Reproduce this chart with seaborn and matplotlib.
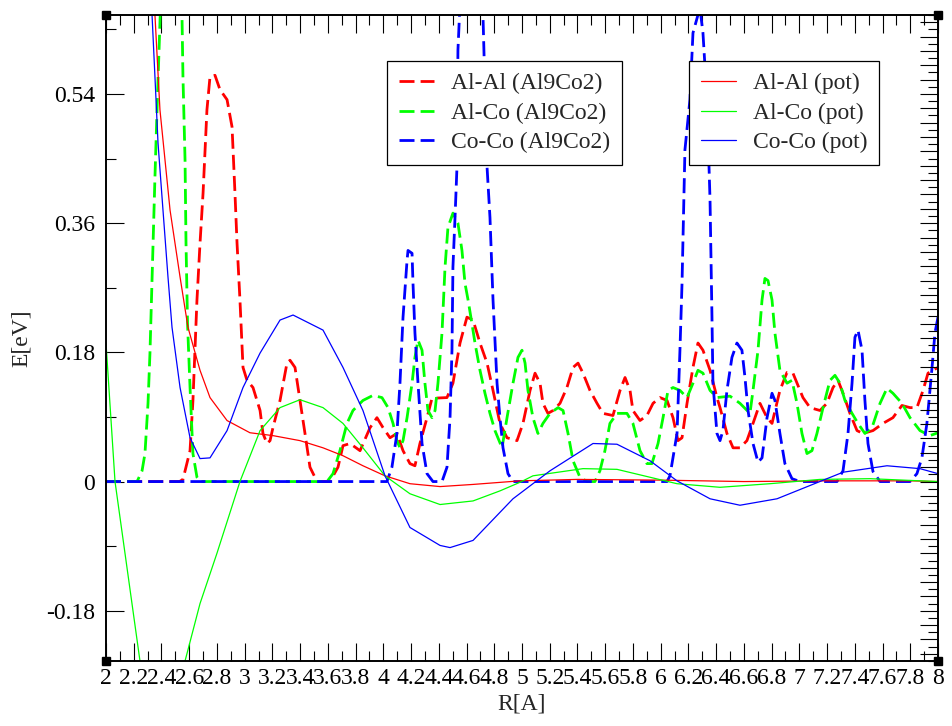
import matplotlib
matplotlib.use("Agg")
import matplotlib.pyplot as plt
import seaborn as sns
from matplotlib.ticker import MultipleLocator

# Al-Al (Al9Co2), dashed red
alal_ref_x = [2.0, 2.53, 2.555, 2.606, 2.627, 2.656, 2.678, 2.700, 2.728, 2.750, 2.786, 2.822, 2.873,
              2.909, 2.930, 2.945, 2.966, 2.988, 3.017, 3.060, 3.111, 3.132, 3.161, 3.183, 3.204,
              3.255, 3.305, 3.327, 3.363, 3.399, 3.435, 3.471, 3.522, 3.615, 3.673, 3.709, 3.760,
              3.832, 3.904, 3.954, 3.998, 4.048, 4.098, 4.142, 4.192, 4.228, 4.264, 4.315, 4.351,
              4.459, 4.502, 4.553, 4.603, 4.647, 4.697, 4.748, 4.791, 4.841, 4.892, 4.964, 5.007,
              5.058, 5.094, 5.130, 5.151, 5.187, 5.224, 5.274, 5.324, 5.368, 5.404, 5.440, 5.490,
              5.541, 5.584, 5.656, 5.707, 5.743, 5.779, 5.800, 5.851, 5.901, 5.945, 5.995, 6.046,
              6.089, 6.125, 6.154, 6.190, 6.233, 6.269, 6.305, 6.356, 6.406, 6.428, 6.478, 6.522,
              6.572, 6.622, 6.666, 6.716, 6.767, 6.803, 6.860, 6.911, 6.954, 7.026, 7.077, 7.149,
              7.199, 7.243, 7.279, 7.315, 7.365, 7.416, 7.459, 7.531, 7.603, 7.675, 7.740, 7.798,
              7.848, 7.892, 7.928, 7.964, 8.0]
alal_ref_y = [0.0, 0.0, 0.003, 0.043, 0.113, 0.253, 0.332, 0.402, 0.518, 0.564, 0.566, 0.546, 0.532,
              0.494, 0.402, 0.332, 0.253, 0.159, 0.141, 0.131, 0.099, 0.067, 0.053, 0.057, 0.075,
              0.113, 0.165, 0.169, 0.159, 0.113, 0.067, 0.020, 0.0, 0.0, 0.020, 0.050, 0.053,
              0.043, 0.075, 0.089, 0.075, 0.061, 0.067, 0.043, 0.025, 0.022, 0.053, 0.089, 0.116,
              0.117, 0.137, 0.193, 0.229, 0.225, 0.193, 0.165, 0.127, 0.081, 0.061, 0.057, 0.081,
              0.127, 0.151, 0.137, 0.109, 0.095, 0.099, 0.109, 0.131, 0.159, 0.165, 0.151, 0.127,
              0.109, 0.095, 0.092, 0.127, 0.145, 0.127, 0.099, 0.085, 0.092, 0.109, 0.117, 0.113,
              0.089, 0.057, 0.061, 0.109, 0.159, 0.193, 0.183, 0.155, 0.117, 0.103, 0.067, 0.047,
              0.047, 0.057, 0.081, 0.109, 0.089, 0.081, 0.127, 0.152, 0.151, 0.117, 0.103, 0.099,
              0.109, 0.131, 0.141, 0.123, 0.095, 0.071, 0.067, 0.071, 0.081, 0.089, 0.106, 0.103,
              0.103, 0.127, 0.151, 0.155, 0.159]

# Al-Co (Al9Co2), dashed green
alco_ref_x = [2.0, 2.224, 2.260, 2.281, 2.303, 2.317, 2.339, 2.353, 2.368, 2.389, 2.47, 2.548, 2.555,
              2.570, 2.577, 2.588, 2.606, 2.627, 2.656, 2.678, 3.594, 3.637, 3.687, 3.738, 3.781,
              3.853, 3.925, 3.990, 4.034, 4.070, 4.098, 4.120, 4.142, 4.171, 4.207, 4.228, 4.250,
              4.279, 4.300, 4.322, 4.351, 4.373, 4.394, 4.423, 4.445, 4.466, 4.502, 4.538, 4.567,
              4.589, 4.611, 4.639, 4.661, 4.697, 4.733, 4.769, 4.805, 4.856, 4.892, 4.935, 4.971,
              5.000, 5.022, 5.043, 5.079, 5.115, 5.151, 5.202, 5.260, 5.296, 5.332, 5.368, 5.418,
              5.469, 5.526, 5.562, 5.598, 5.634, 5.685, 5.757, 5.800, 5.851, 5.901, 5.937, 5.981,
              6.017, 6.053, 6.089, 6.139, 6.190, 6.233, 6.269, 6.305, 6.356, 6.406, 6.500, 6.572,
              6.644, 6.666, 6.702, 6.731, 6.752, 6.774, 6.803, 6.824, 6.860, 6.911, 6.947, 6.983,
              7.019, 7.055, 7.091, 7.127, 7.171, 7.221, 7.257, 7.293, 7.329, 7.380, 7.423, 7.473,
              7.524, 7.582, 7.632, 7.675, 7.740, 7.798, 7.870, 7.942, 8.0]
alco_ref_y = [0.0, 0.0, 0.015, 0.039, 0.109, 0.179, 0.332, 0.424, 0.518, 0.639, 1.1, 0.650, 0.564,
              0.448, 0.332, 0.220, 0.131, 0.039, 0.006, 0.0, 0.0, 0.011, 0.043, 0.081, 0.099,
              0.113, 0.120, 0.117, 0.103, 0.081, 0.057, 0.047, 0.057, 0.089, 0.137, 0.173, 0.197,
              0.183, 0.137, 0.099, 0.089, 0.099, 0.137, 0.207, 0.299, 0.354, 0.374, 0.360, 0.322,
              0.276, 0.253, 0.220, 0.193, 0.155, 0.123, 0.095, 0.071, 0.047, 0.089, 0.137, 0.173,
              0.183, 0.165, 0.127, 0.089, 0.067, 0.081, 0.095, 0.103, 0.099, 0.067, 0.029, 0.006,
              0.0, 0.0, 0.015, 0.043, 0.081, 0.095, 0.095, 0.081, 0.043, 0.025, 0.025, 0.053,
              0.089, 0.127, 0.131, 0.127, 0.117, 0.137, 0.155, 0.151, 0.127, 0.117, 0.119, 0.109,
              0.095, 0.127, 0.183, 0.253, 0.283, 0.280, 0.253, 0.207, 0.155, 0.137, 0.141, 0.109,
              0.067, 0.039, 0.043, 0.067, 0.103, 0.141, 0.148, 0.137, 0.113, 0.095, 0.081, 0.067,
              0.075, 0.109, 0.130, 0.123, 0.109, 0.089, 0.071, 0.064, 0.068]

# Co-Co (Al9Co2), dashed blue
coco_ref_x = [2.0, 4.026, 4.062, 4.098, 4.120, 4.142, 4.171, 4.178, 4.207, 4.214, 4.228, 4.250, 4.279,
              4.315, 4.358, 4.423, 4.459, 4.481, 4.495, 4.502, 4.517, 4.531, 4.538, 4.63, 4.719,
              4.748, 4.769, 4.791, 4.820, 4.841, 4.863, 4.899, 4.935, 6.046, 6.067, 6.118, 6.139,
              6.154, 6.175, 6.211, 6.233, 6.283, 6.305, 6.334, 6.356, 6.370, 6.377, 6.406, 6.428,
              6.449, 6.478, 6.514, 6.550, 6.586, 6.608, 6.630, 6.666, 6.702, 6.731, 6.767, 6.803,
              6.824, 6.860, 6.896, 6.947, 7.005, 7.272, 7.315, 7.351, 7.380, 7.401, 7.423, 7.452,
              7.473, 7.495, 7.531, 7.582, 7.798, 7.848, 7.884, 7.920, 7.957, 7.978, 8.0]
coco_ref_y = [0.0, 0.0, 0.020, 0.067, 0.137, 0.229, 0.308, 0.322, 0.318, 0.276, 0.207, 0.137, 0.053,
              0.011, 0.0, 0.0, 0.020, 0.089, 0.183, 0.299, 0.368, 0.438, 0.601, 1.0, 0.647,
              0.438, 0.368, 0.253, 0.137, 0.089, 0.047, 0.011, 0.0, 0.0, 0.008, 0.067, 0.183,
              0.276, 0.462, 0.532, 0.625, 0.660, 0.625, 0.532, 0.392, 0.229, 0.137, 0.067, 0.057,
              0.071, 0.127, 0.173, 0.193, 0.183, 0.145, 0.099, 0.053, 0.027, 0.033, 0.089, 0.123,
              0.113, 0.067, 0.025, 0.004, 0.0, 0.0, 0.015, 0.067, 0.137, 0.201, 0.211, 0.183,
              0.113, 0.053, 0.014, 0.0, 0.0, 0.011, 0.033, 0.081, 0.159, 0.207, 0.229]

# Al-Al (pot), thin red
alal_pot_x = [2.30, 2.353, 2.389, 2.462, 2.534, 2.591, 2.678, 2.750, 2.873, 3.038, 3.204, 3.399, 3.565,
              3.709, 3.853, 4.012, 4.192, 4.409, 4.647, 4.986, 5.4, 6.0, 6.6, 7.2, 7.8, 8.0]
alal_pot_y = [0.85, 0.650, 0.518, 0.378, 0.285, 0.215, 0.155, 0.117, 0.085, 0.068, 0.064, 0.057, 0.047,
              0.036, 0.022, 0.008, -0.003, -0.007, -0.004, 0.001, 0.003, 0.002, 0.0, 0.001, 0.001, 0.0]

# Al-Co (pot), thin green
alco_pot_x = [2.0, 2.065, 2.245, 2.30, 2.38, 2.46, 2.570, 2.678, 2.800, 2.966, 3.111, 3.255, 3.399,
              3.565, 3.709, 3.853, 4.012, 4.192, 4.409, 4.647, 4.841, 4.986, 5.079, 5.440, 5.685,
              5.923, 6.118, 6.428, 6.788, 7.149, 7.510, 7.870, 8.0]
alco_pot_y = [0.193, 0.0, -0.25, -0.31, -0.33, -0.31, -0.25, -0.170, -0.100, 0.0, 0.071, 0.103, 0.114,
              0.103, 0.081, 0.047, 0.008, -0.017, -0.032, -0.027, -0.013, -0.001, 0.008, 0.018, 0.017,
              0.006, -0.003, -0.008, -0.003, 0.003, 0.004, 0.001, 0.0]

# Co-Co (pot), thin blue
coco_pot_x = [2.30, 2.332, 2.353, 2.375, 2.411, 2.447, 2.476, 2.534, 2.606, 2.678, 2.750, 2.873, 2.988,
              3.111, 3.255, 3.349, 3.565, 3.709, 3.853, 4.012, 4.192, 4.409, 4.481, 4.647, 4.935,
              5.202, 5.512, 5.685, 5.923, 6.118, 6.356, 6.572, 6.839, 7.315, 7.632, 7.870, 8.0]
coco_pot_y = [0.78, 0.650, 0.564, 0.472, 0.378, 0.285, 0.215, 0.131, 0.061, 0.032, 0.033, 0.071, 0.131,
              0.179, 0.225, 0.232, 0.211, 0.159, 0.099, 0.008, -0.064, -0.089, -0.092, -0.082, -0.024,
              0.015, 0.053, 0.052, 0.029, 0.001, -0.024, -0.033, -0.024, 0.013, 0.022, 0.018, 0.011]

ref_labels = ["Al-Al (Al9Co2)", "Al-Co (Al9Co2)", "Co-Co (Al9Co2)"]
pot_labels = ["Al-Al (pot)", "Al-Co (pot)", "Co-Co (pot)"]

x_ticks = [2, 2.2, 2.4, 2.6, 2.8, 3, 3.2, 3.4, 3.6, 3.8, 4, 4.2, 4.4, 4.6, 4.8, 5,
           5.2, 5.4, 5.6, 5.8, 6, 6.2, 6.4, 6.6, 6.8, 7, 7.2, 7.4, 7.6, 7.8, 8]
x_tick_labels = ["2", "2.2", "2.4", "2.6", "2.8", "3", "3.2", "3.4", "3.6", "3.8", "4", "4.2",
                 "4.4", "4.6", "4.8", "5", "5.2", "5.4", "5.6", "5.8", "6", "6.2", "6.4", "6.6",
                 "6.8", "7", "7.2", "7.4", "7.6", "7.8", "8"]
y_ticks = [-0.18, 0, 0.18, 0.36, 0.54]
y_tick_labels = ["-0.18", "0", "0.18", "0.36", "0.54"]

colors = ["#ff0000", "#00ff00", "#0000ff"]

sns.set_theme(style="ticks")
plt.rcParams["font.family"] = ["Liberation Serif", "DejaVu Serif"]
plt.rcParams["font.size"] = 17

fig = plt.figure(figsize=(9.52, 7.26), dpi=100)
ax = fig.add_axes([106 / 952, 1 - 661 / 726, 832 / 952, 646 / 726])

# dashed reference curves first, thin potential curves on top
ref_series = [(alal_ref_x, alal_ref_y), (alco_ref_x, alco_ref_y), (coco_ref_x, coco_ref_y)]
pot_series = [(alal_pot_x, alal_pot_y), (alco_pot_x, alco_pot_y), (coco_pot_x, coco_pot_y)]

ref_lines = []
for (xs, ys), c in zip(ref_series, colors):
    sns.lineplot(x=xs, y=ys, ax=ax, color=c, linewidth=2.0, sort=False,
                 estimator=None, legend=False)
    line = ax.lines[-1]
    line.set_dashes((5.4, 2.2))
    ref_lines.append(line)

pot_lines = []
for (xs, ys), c in zip(pot_series, colors):
    sns.lineplot(x=xs, y=ys, ax=ax, color=c, linewidth=0.9, sort=False,
                 estimator=None, legend=False)
    pot_lines.append(ax.lines[-1])

ax.set_xlim(2, 8)
ax.set_ylim(-0.25, 0.65)
ax.set_xticks(x_ticks)
ax.set_xticklabels(x_tick_labels)
ax.set_yticks(y_ticks)
ax.set_yticklabels(y_tick_labels)
ax.xaxis.set_minor_locator(MultipleLocator(0.1))
ax.yaxis.set_minor_locator(MultipleLocator(0.09))

ax.tick_params(axis="x", which="both", direction="in", top=True, bottom=True, pad=5,
               labelsize=17, colors="black")
ax.tick_params(axis="y", which="both", direction="in", left=True, right=False, pad=8,
               labelsize=17, colors="black")
ax.tick_params(which="major", length=13, width=0.8)
ax.tick_params(which="minor", length=7, width=0.8)

# denser unlabeled ticks on the right edge
ax2 = ax.twinx()
ax2.set_ylim(ax.get_ylim())
ax2.yaxis.set_major_locator(MultipleLocator(0.02))
ax2.yaxis.set_minor_locator(MultipleLocator(0.01))
ax2.tick_params(axis="y", which="both", direction="in", labelright=False, colors="black", width=0.8)
ax2.tick_params(axis="y", which="major", length=13)
ax2.tick_params(axis="y", which="minor", length=7)

for a in (ax, ax2):
    for sp in a.spines.values():
        sp.set_color("black")
        sp.set_linewidth(1.2)

ax.set_xlabel("R[A]", fontsize=17, labelpad=3)
ax.set_ylabel("E[eV]", fontsize=17, labelpad=10)

# black corner squares
ax.plot([0, 1, 0, 1], [0, 0, 1, 1], ls="none", marker="s", ms=5.5, color="black",
        transform=ax.transAxes, clip_on=False, zorder=6)

leg_kw = dict(loc="upper left", bbox_transform=fig.transFigure, fancybox=False, framealpha=1,
              edgecolor="black", borderaxespad=0, borderpad=0.5, labelspacing=0.34,
              handlelength=1.5, handletextpad=0.7, fontsize=17)
leg1 = ax.legend(handles=ref_lines, labels=ref_labels,
                 bbox_to_anchor=(387 / 952, 1 - 61 / 726), **leg_kw)
leg1.get_frame().set_linewidth(0.9)
ax.add_artist(leg1)
leg2 = ax.legend(handles=pot_lines, labels=pot_labels,
                 bbox_to_anchor=(689 / 952, 1 - 61 / 726), **leg_kw)
leg2.get_frame().set_linewidth(0.9)

fig.savefig("out.png", dpi=100)
